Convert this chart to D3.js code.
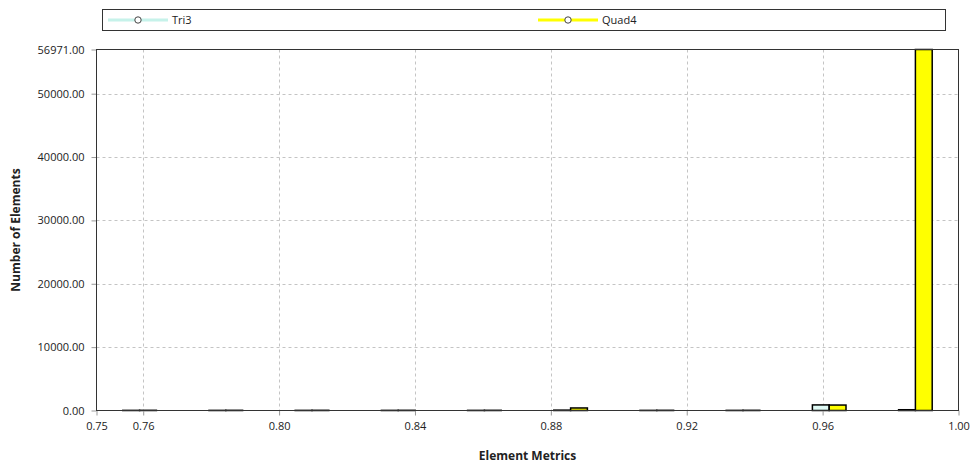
<!DOCTYPE html>
<html>
<head>
<meta charset="utf-8">
<script src="https://cdn.jsdelivr.net/npm/d3@7"></script>
<style>
  html, body { margin: 0; padding: 0; background: #fff; }
  svg { display: block; font-family: "Open Sans", "Noto Sans", sans-serif; }
</style>
</head>
<body>
<svg id="chart" width="977" height="467"></svg>
<script>
// Histogram of element quality metric, split by element type
const metricMin = 0.74625;
const metricMax = 1.0;
const binCount = 10;
const seriesNames = ["Tri3", "Quad4"];
const tri3Counts  = [20, 20, 20, 20, 20, 60, 20, 20, 880, 120];
const quad4Counts = [30, 30, 30, 30, 30, 400, 30, 30, 860, 56971];
const xTickValues = [0.74625, 0.76, 0.80, 0.84, 0.88, 0.92, 0.96, 1.00];
const yTickValues = [0, 10000, 20000, 30000, 40000, 50000, 56971];
const yMax = 56971;

const colors = { Tri3: "#e0fbf6", Quad4: "#ffff00" };
const legendLine = { Tri3: "#c6f2ea", Quad4: "#ffff00" };

const svg = d3.select("#chart");
const plot = { left: 96.5, right: 958.5, top: 49.5, bottom: 410.5 };

const x = d3.scaleLinear().domain([metricMin, metricMax]).range([plot.left, plot.right]);
const y = d3.scaleLinear().domain([0, yMax]).range([plot.bottom, plot.top]);

const binWidth = (metricMax - metricMin) / binCount;
const bins = d3.range(binCount).map(i => ({
  x0: metricMin + i * binWidth,
  x1: metricMin + (i + 1) * binWidth,
  Tri3: tri3Counts[i],
  Quad4: quad4Counts[i]
}));

// grid lines
const grid = svg.append("g").attr("stroke", "#c4c4c4").attr("stroke-dasharray", "3,3");
grid.selectAll("line.v").data(xTickValues.filter(v => v > metricMin && v < metricMax))
  .join("line")
  .attr("x1", d => Math.round(x(d)) + 0.5).attr("x2", d => Math.round(x(d)) + 0.5)
  .attr("y1", plot.top).attr("y2", plot.bottom);
grid.selectAll("line.h").data(yTickValues.filter(v => v > 0 && v < yMax))
  .join("line")
  .attr("y1", d => Math.round(y(d)) + 0.5).attr("y2", d => Math.round(y(d)) + 0.5)
  .attr("x1", plot.left).attr("x2", plot.right);

// bars: grouped inside each bin
const group = d3.scaleBand().domain(seriesNames).paddingInner(0).paddingOuter(0);
const barGroup = svg.append("g");
bins.forEach(b => {
  const cx = x((b.x0 + b.x1) / 2);
  const pairW = (x(b.x1) - x(b.x0)) * 0.39;
  group.range([cx - pairW / 2, cx + pairW / 2]);
  seriesNames.forEach(s => {
    const top = y(b[s]);
    barGroup.append("rect")
      .attr("x", group(s))
      .attr("y", top)
      .attr("width", group.bandwidth())
      .attr("height", Math.max(0, plot.bottom - top))
      .attr("fill", colors[s])
      .attr("stroke", "#000")
      .attr("stroke-width", 1.5);
  });
});

// axes
const xAxis = d3.axisBottom(x).tickValues(xTickValues).tickFormat(d3.format(".2f")).tickSize(5).tickSizeOuter(0);
const yAxis = d3.axisLeft(y).tickValues(yTickValues).tickFormat(d3.format(".2f")).tickSize(5).tickSizeOuter(0);

const gx = svg.append("g").attr("transform", `translate(0,${plot.bottom})`).call(xAxis);
const gy = svg.append("g").attr("transform", `translate(${plot.left},0)`).call(yAxis);
[gx, gy].forEach(g => {
  g.select(".domain").remove();
  g.selectAll(".tick line").attr("stroke", "#999");
  g.selectAll(".tick text").attr("fill", "#222").style("font-size", "11px")
    .style("font-family", "'Open Sans', 'Noto Sans', sans-serif");
});
gx.selectAll(".tick text").attr("dy", "1.05em");
gy.selectAll(".tick text").attr("dx", "-4");

// plot frame
svg.append("rect")
  .attr("x", plot.left).attr("y", plot.top)
  .attr("width", plot.right - plot.left).attr("height", plot.bottom - plot.top)
  .attr("fill", "none").attr("stroke", "#333").attr("stroke-width", 1);

// axis titles
svg.append("text")
  .attr("x", (plot.left + plot.right) / 2).attr("y", 460)
  .attr("text-anchor", "middle")
  .style("font-size", "12px").style("font-weight", "bold").attr("fill", "#222")
  .text("Element Metrics");
svg.append("text")
  .attr("transform", `translate(20,${(plot.top + plot.bottom) / 2}) rotate(-90)`)
  .attr("text-anchor", "middle")
  .style("font-size", "12px").style("font-weight", "bold").attr("fill", "#222")
  .text("Number of Elements");

// legend
const legend = svg.append("g");
legend.append("rect")
  .attr("x", 102.5).attr("y", 9.5).attr("width", 843).attr("height", 21)
  .attr("fill", "#fff").attr("stroke", "#333");
const legendX = { Tri3: 108, Quad4: 538 };
seriesNames.forEach(s => {
  const lx = legendX[s];
  legend.append("line")
    .attr("x1", lx).attr("x2", lx + 60).attr("y1", 20).attr("y2", 20)
    .attr("stroke", legendLine[s]).attr("stroke-width", 3);
  legend.append("circle")
    .attr("cx", lx + 30).attr("cy", 20).attr("r", 3.2)
    .attr("fill", "#fff").attr("stroke", "#444").attr("stroke-width", 1);
  legend.append("text")
    .attr("x", lx + 64).attr("y", 24)
    .style("font-size", "11px").attr("fill", "#222")
    .text(s);
});
</script>
</body>
</html>
